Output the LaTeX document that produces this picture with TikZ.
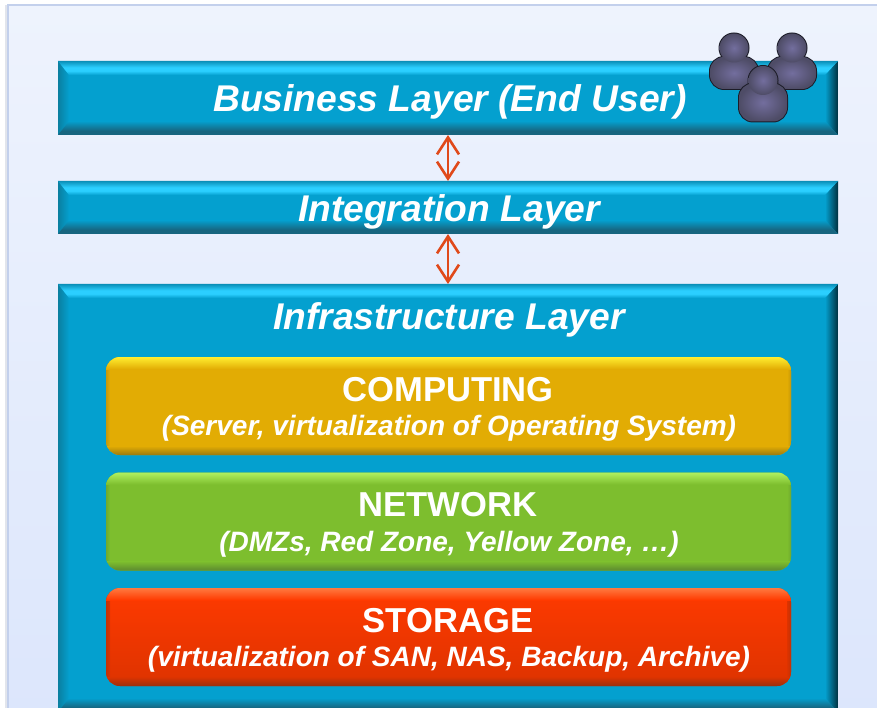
\documentclass[tikz,border=0pt]{standalone}
\usepackage{fontspec}
\setmainfont{Liberation Sans}
\usetikzlibrary{arrows.meta}

\definecolor{panelTop}{HTML}{EEF3FD}
\definecolor{panelBottom}{HTML}{DCE6FC}
\definecolor{panelEdge}{HTML}{C3D0EC}
\definecolor{panelShade}{HTML}{E2E5EC}
\definecolor{layerFill}{HTML}{04A0CF}
\definecolor{layerBright}{HTML}{2BCFFF}
\definecolor{layerEdge}{HTML}{0A8FB8}
\definecolor{layerLow}{HTML}{17657F}
\definecolor{layerSide}{HTML}{0A7FA0}
\definecolor{layerDark}{HTML}{00303F}
\definecolor{linkRed}{HTML}{E0491A}
\definecolor{personLight}{HTML}{736E9E}
\definecolor{personDark}{HTML}{4E4C66}
\definecolor{personLine}{HTML}{1C1C28}

\pgfdeclareverticalshading{layertop}{100bp}{color(0bp)=(layerFill); color(25bp)=(layerFill); color(40bp)=(layerBright); color(52bp)=(layerBright); color(75bp)=(layerEdge); color(100bp)=(layerEdge)}
\pgfdeclareverticalshading{layerbottom}{100bp}{color(0bp)=(layerLow); color(25bp)=(layerLow); color(40bp)=(layerLow); color(75bp)=(layerFill); color(100bp)=(layerFill)}
\pgfdeclarehorizontalshading{layerleft}{100bp}{color(0bp)=(layerSide); color(25bp)=(layerSide); color(75bp)=(layerFill); color(100bp)=(layerFill)}
\pgfdeclarehorizontalshading{layerright}{100bp}{color(0bp)=(layerFill); color(25bp)=(layerFill); color(75bp)=(layerDark); color(100bp)=(layerDark)}

\tikzset{
  panel/.style={minimum width=880pt, minimum height=712pt, inner sep=0pt, outer sep=0pt, draw=panelEdge, line width=1.5pt, top color=panelTop, bottom color=panelBottom},
  panel shade/.style={minimum width=4pt, minimum height=712pt, inner sep=0pt, outer sep=0pt, fill=panelShade},
  layer/.style={minimum width=780pt, inner sep=0pt, outer sep=0pt, fill=layerFill},
  layer title/.style={font=\fontsize{37.2}{41}\bfseries\itshape\selectfont, text=white},
  tier/.style={minimum width=685pt, minimum height=98pt, inner sep=0pt, outer sep=0pt, rounded corners=14pt},
  tier title/.style={font=\fontsize{34.6}{38}\bfseries\selectfont, text=white},
  tier note/.style={font=\fontsize{28}{32}\bfseries\itshape\selectfont, text=white},
  updown/.style={{Straight Barb[length=17pt,width=22pt,line width=2.6pt]}-{Straight Barb[length=17pt,width=22pt,line width=2.6pt]}, draw=linkRed, line width=2.6pt},
  pics/person/.style={code={
    \draw [draw=personLine, line width=2pt, rounded corners=14pt] (-24,#1) rectangle (24,41);
    \draw [draw=personLine, line width=2pt] (0,0) circle (14.5);
    \shade [inner color=personLight, outer color=personDark, rounded corners=14pt] (-24,#1) rectangle (24,41);
    \shade [inner color=personLight, outer color=personDark] (0,0) circle (14.5);
  }}
}

\begin{document}
\begin{tikzpicture}[x=1pt, y=-1pt]

\useasboundingbox (0,0) rectangle (877,708);
\clip (0,0) rectangle (877,708);

\node [panel shade] (panel-shade) at (7,361) {};
\node [panel] (panel) at (448,361) {};

\node [layer, minimum height=74pt] (business) at (448,98) {};
\node [layer, minimum height=53pt] (integration) at (448,207.5) {};
\node [layer, minimum height=428pt] (infrastructure) at (448,498) {};

\foreach \n in {business,integration,infrastructure} {
  \shade [shading=layerleft] (\n.north west) -- ([shift={(11,14)}]\n.north west)
    -- ([shift={(11,-14)}]\n.south west) -- (\n.south west) -- cycle;
  \shade [shading=layerright] (\n.north east) -- ([shift={(-13,14)}]\n.north east)
    -- ([shift={(-13,-14)}]\n.south east) -- (\n.south east) -- cycle;
  \shade [shading=layertop] (\n.north west) -- ([shift={(11,14)}]\n.north west)
    -- ([shift={(-13,14)}]\n.north east) -- (\n.north east) -- cycle;
  \shade [shading=layerbottom] (\n.south west) -- ([shift={(11,-14)}]\n.south west)
    -- ([shift={(-13,-14)}]\n.south east) -- (\n.south east) -- cycle;
}

\node [layer title] (business-title) at (450,102) {Business Layer (End User)};
\node [layer title] (integration-title) at (449,212) {Integration Layer};
\node [layer title] (infrastructure-title) at (449,319.5) {Infrastructure Layer};

\foreach \n/\a/\b/\c/\d/\t/\s [count=\y] in {
  computing/E2AC04/E2AC04/FFEE30/9A7A10/COMPUTING/{(Server, virtualization of Operating System)},
  network/7DBE2E/7DBE2E/B0F060/5C8A30/NETWORK/{(DMZs, Red Zone, Yellow Zone, …)},
  storage/FF3A00/DD3300/FF7A40/9A3010/STORAGE/{(virtualization of SAN, NAS, Backup, Archive)}}
{
  \definecolor{tierA}{HTML}{\a}
  \definecolor{tierB}{HTML}{\b}
  \definecolor{tierC}{HTML}{\c}
  \definecolor{tierD}{HTML}{\d}
  \node [tier, top color=tierA, bottom color=tierB] (\n) at (448.5,406+115.5*\y-115.5) {};
  \begin{scope}
    \clip [rounded corners=14pt] (\n.north west) rectangle (\n.south east);
    \shade [left color=tierD!40!tierB, right color=tierB] (\n.north west) rectangle ([xshift=4pt]\n.south west);
    \shade [left color=tierB, right color=tierD!40!tierB] ([xshift=-4pt]\n.north east) rectangle (\n.south east);
    \shade [top color=tierC, bottom color=tierA] (\n.north west) rectangle ([yshift=-12pt]\n.north east);
    \shade [top color=tierB, bottom color=tierD] ([yshift=9pt]\n.south west) rectangle (\n.south east);
  \end{scope}
  \node [tier title] (\n-title) at (448,389.5+115.5*\y-115.5) {\t};
  \node [tier note] (\n-note) at (449,428.5+115.5*\y-115.5) {\s};
}

\draw [updown] (business) -- (integration);
\draw [updown] (integration) -- (infrastructure);

\pic at (734,48) {person=9};
\pic at (792,48) {person=9};
\pic at (763,80.5) {person=3};

\end{tikzpicture}
\end{document}
